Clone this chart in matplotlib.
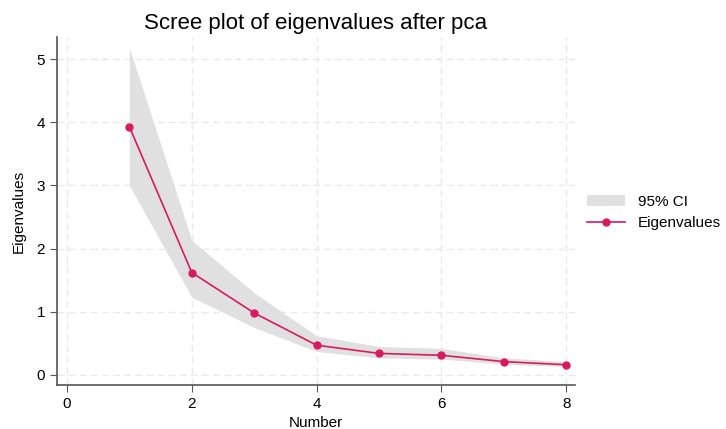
import numpy as np
import matplotlib.pyplot as plt
from matplotlib.patches import Patch
from matplotlib.lines import Line2D

plt.rcParams['font.family'] = ['Liberation Sans', 'DejaVu Sans']

number = np.array([1, 2, 3, 4, 5, 6, 7, 8])
eigenvalues = np.array([3.93, 1.62, 0.98, 0.47, 0.34, 0.31, 0.21, 0.16])
ci_upper = np.array([5.18, 2.13, 1.30, 0.62, 0.45, 0.42, 0.27, 0.21])
ci_lower = np.array([3.00, 1.23, 0.75, 0.37, 0.27, 0.25, 0.17, 0.13])

red = '#d81b60'

fig = plt.figure(figsize=(7.26, 4.29), dpi=100)
ax = fig.add_axes([0.0785, 0.1026, 0.7135, 0.8112])

ax.fill_between(number, ci_lower, ci_upper, color='#e0e0e0', linewidth=0, zorder=2)
ax.plot(number, eigenvalues, color=red, marker='o', markersize=5, linewidth=1.2, zorder=3)

ax.set_xlim(-0.16, 8.14)
ax.set_ylim(-0.16, 5.35)
ax.set_xticks([0, 2, 4, 6, 8])
ax.set_yticks([0, 1, 2, 3, 4, 5])
ax.grid(True, color='#eaeaea', linestyle=(0, (5, 3)), linewidth=1, zorder=0)
ax.set_axisbelow(True)

for s in ['top', 'right']:
    ax.spines[s].set_visible(False)
for s in ['left', 'bottom']:
    ax.spines[s].set_color('#555555')
    ax.spines[s].set_linewidth(1.2)
ax.tick_params(labelsize=11, color='#555555', length=5)

ax.set_xlabel('Number', fontsize=11)
ax.set_ylabel('Eigenvalues', fontsize=11, labelpad=8)
ax.set_title('Scree plot of eigenvalues after pca', fontsize=16, pad=6)

handles = [Patch(facecolor='#e0e0e0', edgecolor='none', label='95% CI'),
           Line2D([0], [0], color=red, marker='o', markersize=5, linewidth=1.2, label='Eigenvalues')]
fig.legend(handles=handles, loc='center left', bbox_to_anchor=(0.79, 0.505),
           frameon=False, fontsize=11, handlelength=2.5)

fig.savefig('out.png', dpi=100)
